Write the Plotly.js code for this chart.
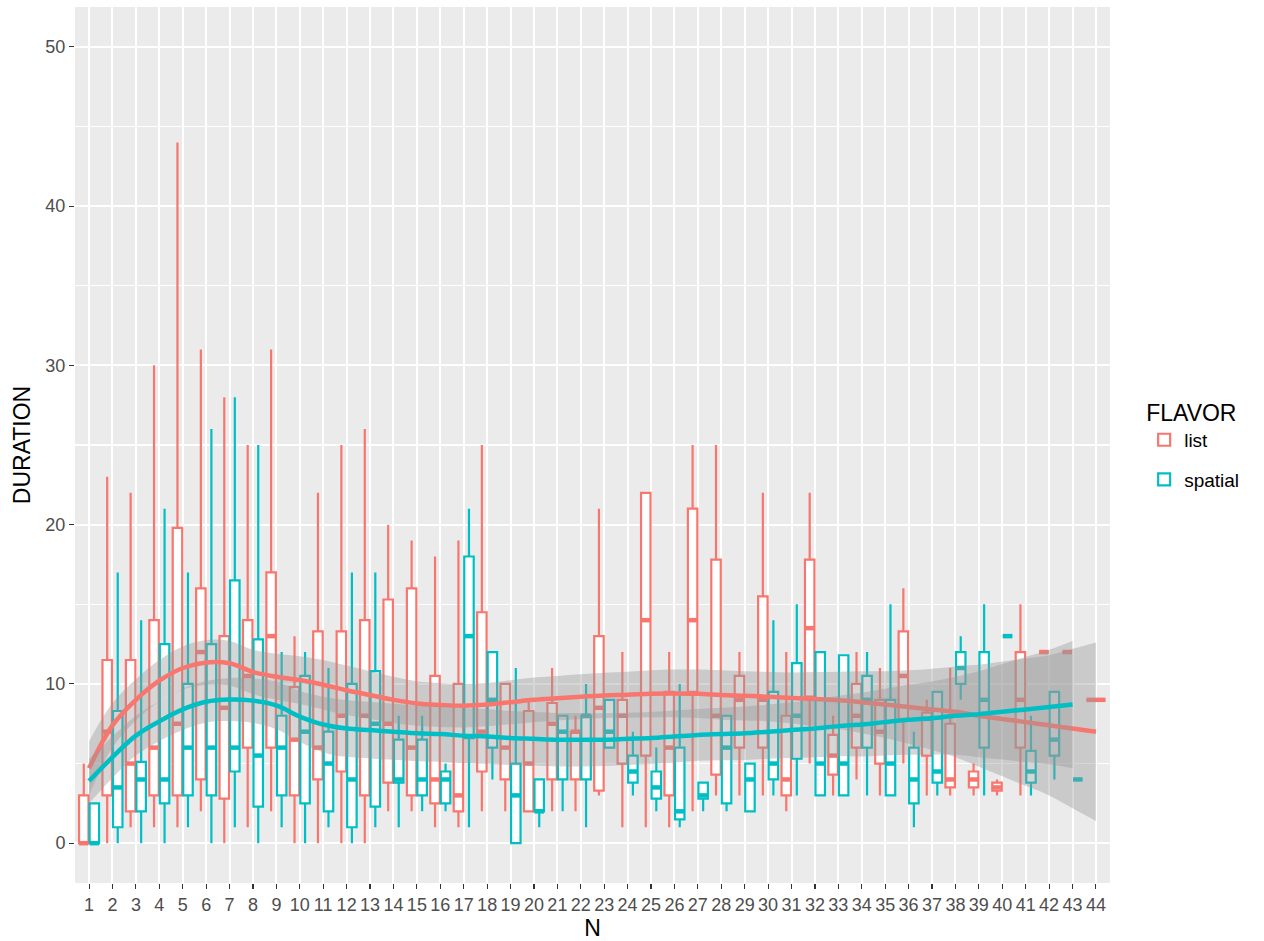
<!DOCTYPE html>
<html>
<head>
<meta charset="utf-8">
<script src="https://cdn.plot.ly/plotly-3.0.1.min.js"></script>
<style>html,body{margin:0;padding:0;background:#fff;}#chart{width:1264px;height:941px;}</style>
</head>
<body>
<div id="chart"></div>
<script>
// ---- data ----
const N_list = [1,2,3,4,5,6,7,8,9,10,11,12,13,14,15,16,17,18,19,20,21,22,23,24,25,26,27,28,29,30,31,32,33,34,35,36,37,38,39,40,41,42,43,44];
const list_lower = [0,0,1,1,1,2,0,1,2,0,0,0,0,2,2,1,1,2,2,2,2,2,3,1,1,1,2,3,3,3,2,5,3,4,3,5,3,3,3,3,3,12,12,9];
const list_q1    = [0,3,2,3,3,4,2.8,6,6,3,4,4.5,3,3.8,3,2.5,2,4.5,4,2,4,4,3.3,5,5.5,3,9.5,4.3,6,6,3,9.2,4.3,6,5,7.8,5.5,3.5,3.5,3.3,6,12,12,9];
const list_med   = [0,7,5,6,7.5,12,8.5,10.5,13,6.5,6,8,8,7.5,6,4,3,7,6,5,7.5,7,8.5,8,14,6,14,8,9,9,4,13.5,5.5,8,7,10.5,7.8,4,4,3.5,9,12,12,9];
const list_q3    = [3,11.5,11.5,14,19.8,16,13,14,17,9.8,13.3,13.3,14,15.3,16,10.5,10,14.5,10,8.3,8.8,7,13,9,22,9.5,21,17.8,10.5,15.5,8,17.8,6.8,10,9,13.3,8.2,7.5,4.5,3.8,12,12,12,9];
const list_upper = [5,23,22,30,44,31,28,25,31,13,22,25,26,20,19,18,19,25,10,9,11,8,21,12,22,12,25,25,12,22,12,22,8,12,11,16,9,11,5,4,15,12,12,9];

const N_spatial = [1,2,3,4,5,6,7,8,9,10,11,12,13,14,15,16,17,18,19,20,21,22,23,24,25,26,27,28,29,30,31,32,33,34,35,36,37,38,39,40,41,42,43];
const spatial_lower = [0,0,0,0,1,0,1,0,1,0,1,0,1,1,2,2,1,4,0,1,2,1,6,3,2,1,2,2,2,3,3,3,3,3,3,1,3,9,3,13,3,4,4];
const spatial_q1    = [0,1,2,2.5,3,3,4.5,2.3,3,2.5,2,1,2.3,3.8,3,2.5,6.6,6,0,2,4,4,6,3.8,2.8,1.5,2.8,2.5,2,4,5.3,3,3,6,3,2.5,3.8,10,6,13,3.8,5.5,4];
const spatial_med   = [0,3.5,4,4,6,6,6,5.5,6,7,5,4,7.5,4,4,4,13,9,3,2,7,8,7,4.5,3.5,2,3,6,4,5,8,5,5,9,5,4,4.5,11,9,13,4.5,6.5,4];
const spatial_q3    = [2.5,8.3,5.1,12.5,10,12.5,16.5,12.8,8,10.5,7,10,10.8,6.5,6.5,4.5,18,12,5,4,8,8,9,5.5,4.5,6,3.8,8,5,9.5,11.3,12,11.8,10.5,9,6,9.5,12,12,13,5.8,9.5,4];
const spatial_upper = [2.5,17,14,21,17,26,28,25,12,12,11,17,17,8,8,5,21,12,11,4,8,10,9,7,6,10,3.8,8,5,14,15,12,11.8,12,15,7,9.5,13,15,13,8,9.5,4];

// loess smooth (fit and standard-error half width) at each N
const list_fit = [4.7,7.4,9.0,10.2,11.0,11.35,11.3,10.75,10.45,10.24,9.95,9.6,9.3,9.0,8.77,8.68,8.63,8.7,8.85,9.0,9.1,9.2,9.28,9.32,9.38,9.4,9.38,9.3,9.25,9.2,9.12,9.05,8.97,8.85,8.7,8.55,8.4,8.25,8.0,7.8,7.6,7.4,7.2,7.0];
const list_se  = [1.7,1.4,1.3,1.3,1.35,1.4,1.4,1.4,1.45,1.5,1.55,1.55,1.5,1.45,1.4,1.38,1.36,1.36,1.38,1.4,1.4,1.41,1.42,1.45,1.48,1.5,1.52,1.55,1.55,1.55,1.6,1.7,1.8,1.95,2.1,2.3,2.55,2.85,3.2,3.6,4.0,4.4,5.0,5.6];
const spatial_fit = [3.9,5.4,6.75,7.65,8.4,8.88,9.02,8.95,8.65,7.95,7.45,7.2,7.1,7.0,6.9,6.85,6.75,6.7,6.6,6.55,6.5,6.5,6.5,6.55,6.6,6.7,6.8,6.85,6.9,7.0,7.1,7.2,7.35,7.45,7.6,7.75,7.85,8.0,8.1,8.25,8.4,8.55,8.7];
const spatial_se  = [1.4,1.3,1.25,1.25,1.3,1.3,1.35,1.4,1.5,1.6,1.75,1.78,1.78,1.76,1.75,1.74,1.73,1.72,1.7,1.68,1.68,1.68,1.66,1.64,1.63,1.63,1.63,1.65,1.68,1.7,1.75,1.8,1.9,2.0,2.1,2.2,2.3,2.45,2.7,3.0,3.3,3.6,4.0];

const xTicks = N_list.map(String);

// ---- styling ----
const COL_LIST = '#F8766D', COL_SPATIAL = '#00BFC4';
const DODGE = 0.225, W_PAIR = 0.405, W_SINGLE = 0.81;

const L = {N:N_list, lo:list_lower, q1:list_q1, med:list_med, q3:list_q3, up:list_upper};
const S = {N:N_spatial, lo:spatial_lower, q1:spatial_q1, med:spatial_med, q3:spatial_q3, up:spatial_upper};

function idxWhere(src, other, paired){
  const out=[]; src.N.forEach((n,i)=>{ if((other.N.indexOf(n)>=0)===paired) out.push(i); }); return out;
}
function boxTrace(name, color, d, idx, off, w, showlegend){
  return {type:'box', name:name, legendgroup:name, showlegend:showlegend,
    x: idx.map(i=>d.N[i]+off), q1: idx.map(i=>d.q1[i]), median: idx.map(i=>d.med[i]),
    q3: idx.map(i=>d.q3[i]), lowerfence: idx.map(i=>d.lo[i]), upperfence: idx.map(i=>d.up[i]),
    width:w, whiskerwidth:0, boxpoints:false, fillcolor:'white',
    line:{color:color, width:2.2}, hoverinfo:'skip'};
}
function medTrace(color, d, idx, off, w){
  const x=[], y=[];
  idx.forEach(i=>{ const c=d.N[i]+off; x.push(c-w/2, c+w/2, null); y.push(d.med[i], d.med[i], null); });
  return {type:'scatter', mode:'lines', x:x, y:y, line:{color:color, width:4.5}, showlegend:false, hoverinfo:'skip'};
}
function ribbon(N, fit, se){
  const up = fit.map((v,i)=>v+se[i]), lo = fit.map((v,i)=>v-se[i]);
  return [
    {type:'scatter', mode:'lines', x:N, y:lo, line:{width:0, shape:'spline', color:'rgba(0,0,0,0)'}, showlegend:false, hoverinfo:'skip'},
    {type:'scatter', mode:'lines', x:N, y:up, fill:'tonexty', fillcolor:'rgba(153,153,153,0.4)',
      line:{width:0, shape:'spline', color:'rgba(0,0,0,0)'}, showlegend:false, hoverinfo:'skip'}
  ];
}
function smooth(N, fit, color){
  return {type:'scatter', mode:'lines', x:N, y:fit, line:{color:color, width:4.5, shape:'spline'}, showlegend:false, hoverinfo:'skip'};
}

const lp = idxWhere(L, S, true), ls = idxWhere(L, S, false);
const sp = idxWhere(S, L, true), ss = idxWhere(S, L, false);

const traces = [
  boxTrace('list', COL_LIST, L, lp, -DODGE, W_PAIR, true),
  boxTrace('spatial', COL_SPATIAL, S, sp, DODGE, W_PAIR, true),
];
if (ls.length) traces.push(boxTrace('list', COL_LIST, L, ls, 0, W_SINGLE, false));
if (ss.length) traces.push(boxTrace('spatial', COL_SPATIAL, S, ss, 0, W_SINGLE, false));
traces.push(medTrace(COL_LIST, L, lp, -DODGE, W_PAIR));
traces.push(medTrace(COL_SPATIAL, S, sp, DODGE, W_PAIR));
if (ls.length) traces.push(medTrace(COL_LIST, L, ls, 0, W_SINGLE));
if (ss.length) traces.push(medTrace(COL_SPATIAL, S, ss, 0, W_SINGLE));
traces.push(...ribbon(N_list, list_fit, list_se));
traces.push(smooth(N_list, list_fit, COL_LIST));
traces.push(...ribbon(N_spatial, spatial_fit, spatial_se));
traces.push(smooth(N_spatial, spatial_fit, COL_SPATIAL));

const FONT = 'Liberation Sans, Arial, Helvetica, sans-serif';
const layout = {
  width:1264, height:941,
  margin:{l:75, r:154, t:7, b:58, pad:0},
  paper_bgcolor:'white', plot_bgcolor:'#EBEBEB',
  boxmode:'overlay',
  font:{family:FONT, color:'#000'},
  xaxis:{type:'linear', range:[0.4,44.6], tickmode:'array', tickvals:N_list, ticktext:xTicks,
    showgrid:true, gridcolor:'white', gridwidth:2, zeroline:false, showline:false,
    ticks:'outside', ticklen:5, tickwidth:1.1, tickcolor:'#333333',
    tickfont:{family:FONT, size:18, color:'#4D4D4D'},
    title:{text:'N', font:{family:FONT, size:23, color:'#000'}, standoff:4}, automargin:false},
  yaxis:{range:[-2.5,52.5], tickvals:[0,10,20,30,40,50],
    showgrid:true, gridcolor:'white', gridwidth:2, zeroline:false, showline:false,
    minor:{tickvals:[5,15,25,35,45], showgrid:true, gridcolor:'white', gridwidth:1.1, ticks:''},
    ticks:'outside', ticklen:5, tickwidth:1.1, tickcolor:'#333333',
    tickfont:{family:FONT, size:18, color:'#4D4D4D'},
    title:{text:'DURATION', font:{family:FONT, size:23, color:'#000'}, standoff:8}, automargin:false},
  showlegend:true,
  legend:{x:1.033, xanchor:'left', y:0.5, yanchor:'middle', traceorder:'grouped', tracegroupgap:12,
    title:{text:'FLAVOR', font:{family:FONT, size:23, color:'#000'}},
    font:{family:FONT, size:19, color:'#000'}, bgcolor:'white', itemwidth:30}
};
Plotly.newPlot('chart', traces, layout, {displayModeBar:false, staticPlot:true});
</script>
</body>
</html>
